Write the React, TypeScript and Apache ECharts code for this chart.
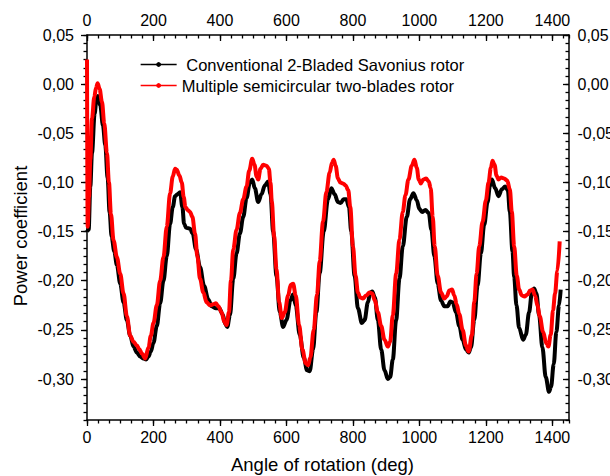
import React, { useEffect, useRef } from 'react';
import * as echarts from 'echarts';

const FONT = '"Liberation Sans", Arial, Helvetica, sans-serif';

const seriesNames = [
  '\u00a0Conventional 2-Bladed Savonius rotor',
  'Multiple semicircular two-blades rotor',
];

// [angle of rotation (deg), power coefficient]
const conventionalData: number[][] = [
  [0, -0.15], [5, -0.148], [10, -0.104], [15, -0.07], [23, -0.03], [28, -0.017], [33, -0.012], [40, -0.022],
  [48, -0.042], [55, -0.062], [62, -0.095], [68, -0.13], [74, -0.155], [82, -0.17], [90, -0.184], [100, -0.203],
  [110, -0.222], [120, -0.24], [130, -0.256], [140, -0.267], [150, -0.273], [160, -0.277], [170, -0.279],
  [178, -0.28], [185, -0.277], [192, -0.272], [200, -0.263], [210, -0.246], [220, -0.223], [230, -0.2],
  [240, -0.175], [250, -0.142], [258, -0.125], [265, -0.114], [272, -0.112], [280, -0.11], [287, -0.125],
  [292, -0.142], [298, -0.146], [310, -0.147], [318, -0.152], [328, -0.168], [340, -0.186], [352, -0.205],
  [365, -0.219], [375, -0.226], [388, -0.228], [398, -0.228], [408, -0.234], [416, -0.244], [422, -0.247],
  [430, -0.235], [440, -0.198], [450, -0.172], [460, -0.152], [470, -0.135], [480, -0.116], [490, -0.1],
  [497, -0.097], [505, -0.106], [515, -0.12], [525, -0.112], [535, -0.103], [545, -0.099], [552, -0.112],
  [560, -0.15], [570, -0.195], [580, -0.232], [590, -0.247], [600, -0.24], [612, -0.22], [620, -0.214],
  [628, -0.225], [640, -0.255], [652, -0.278], [662, -0.291], [670, -0.292], [680, -0.27], [690, -0.232],
  [700, -0.192], [712, -0.15], [725, -0.117], [735, -0.106], [745, -0.112], [755, -0.12], [763, -0.121],
  [772, -0.117], [780, -0.117], [788, -0.125], [795, -0.15], [805, -0.195], [815, -0.228], [827, -0.243],
  [835, -0.24], [845, -0.222], [852, -0.212], [858, -0.211], [866, -0.217], [875, -0.24], [885, -0.27],
  [895, -0.291], [905, -0.3], [912, -0.298], [920, -0.28], [930, -0.24], [940, -0.198], [950, -0.165],
  [962, -0.135], [972, -0.117], [982, -0.111], [992, -0.118], [1000, -0.127], [1008, -0.13], [1018, -0.128],
  [1028, -0.131], [1036, -0.148], [1045, -0.175], [1055, -0.203], [1065, -0.22], [1075, -0.226], [1085, -0.226],
  [1093, -0.221], [1100, -0.222], [1110, -0.232], [1120, -0.246], [1130, -0.26], [1140, -0.27], [1148, -0.273],
  [1155, -0.268], [1165, -0.24], [1175, -0.205], [1185, -0.172], [1195, -0.143], [1205, -0.12], [1212, -0.104],
  [1218, -0.097], [1228, -0.106], [1238, -0.114], [1248, -0.107], [1258, -0.104], [1266, -0.108], [1272, -0.13],
  [1280, -0.17], [1285, -0.196], [1292, -0.225], [1300, -0.248], [1312, -0.26], [1320, -0.255], [1330, -0.232],
  [1338, -0.213], [1345, -0.208], [1352, -0.213], [1360, -0.235], [1370, -0.268], [1380, -0.298], [1390, -0.313],
  [1396, -0.308], [1404, -0.285], [1412, -0.252], [1420, -0.225], [1425, -0.209],
];

const multipleData: number[][] = [
  [0, 0.025], [2, -0.145], [6, -0.115], [10, -0.077], [15, -0.035], [22, -0.013], [27, -0.004], [32, 0.001],
  [38, -0.005], [45, -0.018], [52, -0.04], [60, -0.07], [66, -0.1], [72, -0.132], [80, -0.159], [90, -0.176],
  [100, -0.193], [110, -0.213], [120, -0.236], [130, -0.256], [140, -0.262], [150, -0.266], [158, -0.27],
  [165, -0.274], [175, -0.279], [185, -0.268], [192, -0.256], [200, -0.243], [210, -0.225], [220, -0.2],
  [230, -0.176], [240, -0.145], [250, -0.111], [258, -0.094], [265, -0.086], [270, -0.087], [278, -0.093],
  [285, -0.1], [291, -0.115], [296, -0.125], [303, -0.128], [310, -0.13], [317, -0.135], [325, -0.152],
  [332, -0.175], [340, -0.198], [350, -0.212], [360, -0.222], [370, -0.225], [380, -0.224], [388, -0.223],
  [395, -0.226], [405, -0.232], [413, -0.242], [420, -0.245], [427, -0.232], [433, -0.2], [440, -0.168],
  [450, -0.148], [460, -0.131], [470, -0.117], [480, -0.104], [488, -0.088], [497, -0.076], [504, -0.082],
  [510, -0.094], [515, -0.097], [522, -0.086], [530, -0.082], [540, -0.083], [547, -0.086], [552, -0.1],
  [556, -0.12], [563, -0.155], [570, -0.188], [578, -0.222], [586, -0.238], [595, -0.232], [605, -0.215],
  [613, -0.204], [620, -0.203], [628, -0.215], [638, -0.245], [648, -0.27], [658, -0.284], [665, -0.286],
  [672, -0.278], [682, -0.25], [692, -0.214], [700, -0.18], [710, -0.14], [720, -0.11], [730, -0.09],
  [737, -0.08], [742, -0.077], [748, -0.083], [755, -0.096], [762, -0.1], [770, -0.101], [778, -0.103],
  [786, -0.108], [792, -0.125], [800, -0.165], [808, -0.195], [815, -0.212], [822, -0.217], [830, -0.218],
  [840, -0.215], [850, -0.212], [858, -0.213], [866, -0.22], [875, -0.232], [885, -0.246], [895, -0.26],
  [905, -0.267], [912, -0.262], [920, -0.235], [930, -0.193], [940, -0.158], [950, -0.13], [958, -0.113],
  [967, -0.097], [977, -0.083], [985, -0.077], [992, -0.085], [998, -0.097], [1004, -0.101], [1012, -0.097],
  [1020, -0.096], [1028, -0.099], [1034, -0.106], [1040, -0.135], [1046, -0.165], [1055, -0.195], [1065, -0.212],
  [1075, -0.218], [1082, -0.216], [1090, -0.21], [1098, -0.209], [1105, -0.215], [1112, -0.224], [1120, -0.234],
  [1130, -0.25], [1140, -0.266], [1148, -0.272], [1158, -0.255], [1165, -0.222], [1172, -0.193], [1180, -0.165],
  [1190, -0.14], [1200, -0.118], [1208, -0.1], [1215, -0.085], [1220, -0.078], [1226, -0.082], [1232, -0.093],
  [1238, -0.097], [1246, -0.095], [1255, -0.096], [1264, -0.098], [1272, -0.107], [1278, -0.13], [1285, -0.165],
  [1293, -0.195], [1300, -0.209], [1308, -0.215], [1316, -0.216], [1325, -0.214], [1333, -0.21], [1340, -0.209],
  [1348, -0.215], [1355, -0.225], [1362, -0.236], [1372, -0.252], [1382, -0.264], [1388, -0.267], [1395, -0.255],
  [1402, -0.23], [1408, -0.213], [1415, -0.19], [1422, -0.16],
];

const seriesColors = ['#000000', '#ff0000'];

// axis ranges
const X_MIN = 0;
const X_MAX = 1450;
const X_MAJOR = 200;
const X_MINOR = 200 / 6;
const Y_MIN = -41 / 120;
const Y_MAX = 0.05;
const Y_MINOR = 0.05 / 6;
const Y_LABEL_MIN = -0.3;
const Y_MAJOR = 0.05;

const W = 610;
const H = 476;
const G_LEFT = 87;
const G_RIGHT = 41;
const G_TOP = 35;
const G_BOTTOM = 56;

const fmtY = (v: number) => {
  const s = Math.abs(v) < 1e-9 ? '0.00' : v.toFixed(2);
  return s.replace('.', ',');
};
const fmtX = (v: number) => String(Math.round(v));

export default function App() {
  const ref = useRef<HTMLDivElement>(null);
  useEffect(() => {
    if (!ref.current) return;
    const chart = echarts.init(ref.current, undefined, { renderer: 'svg' });
    const plotH = H - G_TOP - G_BOTTOM;
    const yLabelMinPx = G_TOP + ((Y_MAX - Y_LABEL_MIN) / (Y_MAX - Y_MIN)) * plotH;
    const grid1Bottom = H - yLabelMinPx;

    const tickLine = { color: '#000', width: 1.3 };
    const axisLine = { show: true, onZero: false, lineStyle: { color: '#000', width: 1.5 } };
    const noLine = { show: false, onZero: false };
    const labelStyle = { fontSize: 16, color: '#000', fontFamily: FONT };

    const xCommon = { type: 'value', min: X_MIN, max: X_MAX, splitLine: { show: false }, gridIndex: 0 };
    const yCommon = { type: 'value', splitLine: { show: false } };
    const gridCommon = { left: G_LEFT, right: G_RIGHT, top: G_TOP, containLabel: false, outerBoundsMode: 'none' };

    chart.setOption({
      animation: false,
      backgroundColor: '#ffffff',
      textStyle: { fontFamily: FONT },
      grid: [
        { ...gridCommon, bottom: G_BOTTOM },
        { ...gridCommon, bottom: grid1Bottom },
      ],
      legend: {
        orient: 'vertical',
        left: 140,
        top: 56,
        padding: 0,
        itemWidth: 36,
        itemHeight: 6,
        itemGap: 4,
        textStyle: { fontSize: 16.5, color: '#000', fontFamily: FONT, lineHeight: 16 },
        lineStyle: { width: 1.3 },
        data: seriesNames,
      },
      xAxis: [
        {
          ...xCommon,
          position: 'bottom',
          interval: X_MAJOR,
          axisLine,
          axisTick: { show: true, inside: false, length: 6, lineStyle: tickLine },
          axisLabel: { ...labelStyle, margin: 9, showMaxLabel: false, formatter: fmtX },
          name: 'Angle of rotation (deg)',
          nameLocation: 'middle',
          nameGap: 35,
          nameMoveOverlap: false,
          nameTextStyle: { fontSize: 18.5, color: '#000', fontFamily: FONT, padding: [0, 11, 0, 0] },
        },
        {
          ...xCommon,
          position: 'bottom',
          interval: X_MINOR,
          axisLine: noLine,
          axisTick: { show: true, inside: false, length: 3.5, lineStyle: tickLine },
          axisLabel: { show: false },
        },
        {
          ...xCommon,
          position: 'top',
          interval: X_MAJOR,
          axisLine,
          axisTick: { show: true, inside: true, length: 6, lineStyle: tickLine },
          axisLabel: { ...labelStyle, margin: 7, showMaxLabel: false, formatter: fmtX },
        },
        {
          ...xCommon,
          position: 'top',
          interval: X_MINOR,
          axisLine: noLine,
          axisTick: { show: true, inside: true, length: 3.5, lineStyle: tickLine },
          axisLabel: { show: false },
        },
        { type: 'value', gridIndex: 1, min: X_MIN, max: X_MAX, show: false },
      ],
      yAxis: [
        {
          ...yCommon,
          gridIndex: 0,
          position: 'left',
          min: Y_MIN,
          max: Y_MAX,
          interval: Y_MINOR,
          axisLine,
          axisTick: { show: true, inside: false, length: 3.5, lineStyle: tickLine },
          axisLabel: { show: false },
          name: 'Power coefficient',
          nameLocation: 'middle',
          nameGap: 57,
          nameMoveOverlap: false,
          nameTextStyle: { fontSize: 18.5, color: '#000', fontFamily: FONT, padding: [0, 17, 0, 0] },
        },
        {
          ...yCommon,
          gridIndex: 0,
          position: 'right',
          min: Y_MIN,
          max: Y_MAX,
          interval: Y_MINOR,
          axisLine,
          axisTick: { show: true, inside: true, length: 3.5, lineStyle: tickLine },
          axisLabel: { show: false },
        },
        {
          ...yCommon,
          gridIndex: 1,
          position: 'left',
          min: Y_LABEL_MIN,
          max: Y_MAX,
          interval: Y_MAJOR,
          axisLine: noLine,
          axisTick: { show: true, inside: false, length: 6, lineStyle: tickLine },
          axisLabel: { ...labelStyle, margin: 13, formatter: fmtY },
        },
        {
          ...yCommon,
          gridIndex: 1,
          position: 'right',
          min: Y_LABEL_MIN,
          max: Y_MAX,
          interval: Y_MAJOR,
          axisLine: noLine,
          axisTick: { show: true, inside: true, length: 6, lineStyle: tickLine },
          axisLabel: { ...labelStyle, margin: 8.5, formatter: fmtY },
        },
      ],
      series: [conventionalData, multipleData].map((d, i) => ({
        type: 'line',
        name: seriesNames[i],
        data: d,
        xAxisIndex: 0,
        yAxisIndex: 0,
        smooth: 0.35,
        smoothMonotone: 'x',
        showSymbol: false,
        symbol: 'circle',
        symbolSize: 4,
        lineStyle: { color: seriesColors[i], width: 4 },
        itemStyle: { color: seriesColors[i] },
        z: 2 + i,
      })),
    });
    return () => chart.dispose();
  }, []);
  return (
    <div
      ref={ref}
      style={{ position: 'absolute', left: 0, top: 0, width: W, height: H, background: '#fff' }}
    />
  );
}
